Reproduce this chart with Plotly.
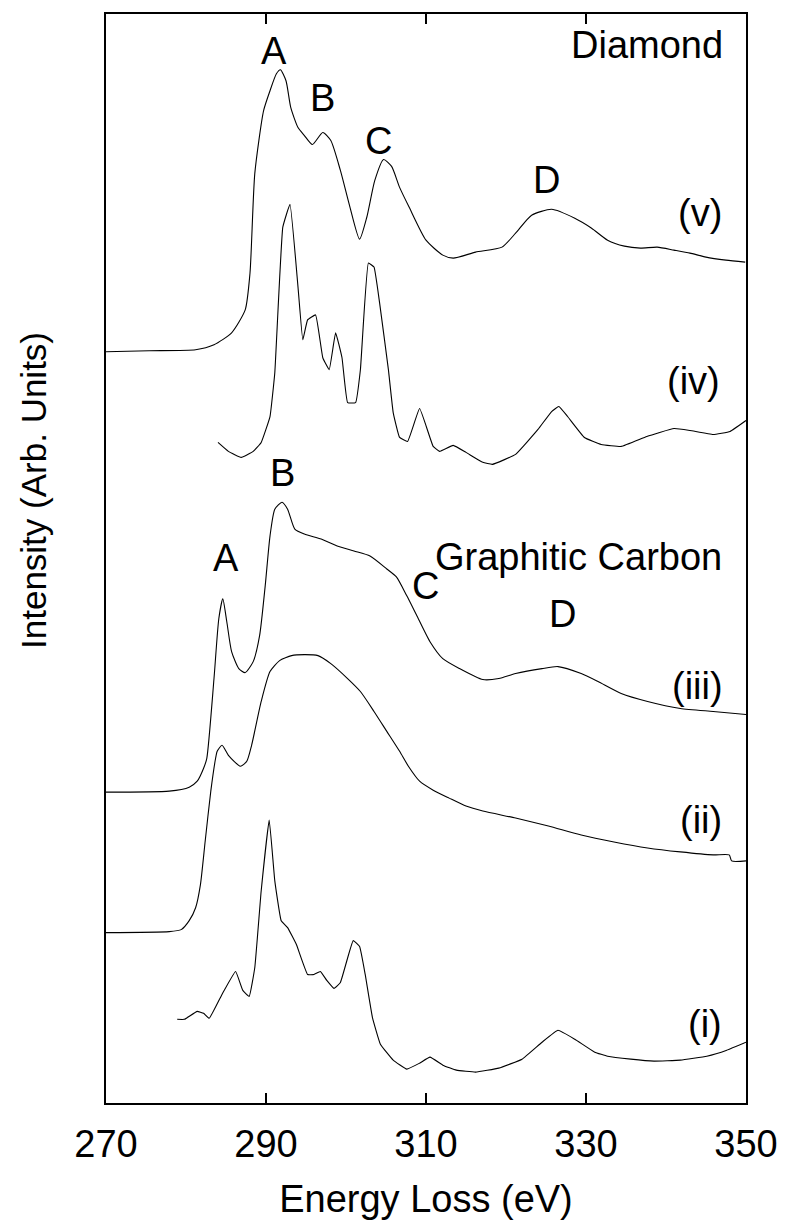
import plotly.graph_objects as go

# ---- data (Energy loss in eV, intensity in arbitrary units) ----
v_energy = [270.0, 275.4, 281.2, 283.5, 285.7, 287.4, 288.0, 288.6, 289.7, 290.5, 291.3, 291.8, 292.5, 293.1,
            294.0, 294.8, 295.8, 297.1, 298.1, 299.3, 300.5, 301.7, 302.6, 303.6, 304.7, 305.7, 306.7, 307.9,
            310.0, 312.1, 313.4, 316.2, 319.5, 321.2, 323.2, 325.7, 328.6, 330.7, 332.7, 334.8, 336.8, 338.9,
            341.0, 343.0, 345.0, 347.5, 349.9]
v_intensity = [754, 755, 756, 761, 773, 796, 833, 933, 996, 1016, 1033, 1037, 1026, 999,
               979, 971, 962, 974, 966, 936, 899, 867, 889, 926, 947, 940, 919, 899,
               866, 851, 848, 854, 859, 873, 891, 897, 888, 878, 866, 860, 858, 859,
               856, 853, 849, 846, 844]

iv_energy = [284.0, 285.3, 286.9, 288.4, 289.4, 290.5, 291.1, 292.1, 293.0, 294.0, 294.6, 295.2, 296.2, 297.1,
             297.9, 298.7, 299.5, 300.2, 301.2, 301.8, 302.8, 303.5, 304.2, 305.3, 305.9, 306.7, 307.7, 309.2,
             310.9, 311.7, 313.4, 315.0, 317.1, 318.3, 321.2, 324.0, 325.7, 326.6, 327.7, 329.8, 331.9, 334.4,
             337.6, 341.0, 343.0, 345.9, 348.0, 350.0]
iv_intensity = [663, 654, 648, 654, 663, 689, 733, 879, 902, 819, 766, 786, 791, 748,
                736, 773, 748, 703, 703, 736, 843, 839, 803, 736, 693, 668, 664, 697,
                659, 654, 660, 653, 643, 641, 651, 676, 694, 699, 689, 668, 661, 659,
                669, 677, 675, 671, 674, 685]

iii_energy = [270.0, 277.9, 280.4, 281.4, 282.2, 282.6, 283.5, 284.1, 284.6, 285.1, 285.7, 286.6, 287.4, 288.4,
              289.2, 289.9, 290.5, 291.1, 292.0, 292.7, 293.6, 294.8, 296.9, 298.9, 301.0, 303.0, 305.1, 306.3,
              307.6, 308.8, 310.5, 312.1, 314.2, 317.1, 319.1, 321.2, 324.5, 326.5, 329.4, 331.5, 334.4, 337.7,
              341.8, 345.9, 350.0]
iii_intensity = [312, 313, 317, 323, 336, 346, 426, 486, 506, 483, 453, 436, 432, 443,
                 469, 519, 569, 596, 603, 596, 576, 571, 566, 559, 554, 549, 536, 528,
                 509, 490, 463, 446, 436, 425, 426, 431, 436, 438, 431, 423, 411, 403,
                 396, 393, 390]

ii_energy = [270.0, 277.9, 279.4, 280.4, 281.2, 281.8, 282.4, 283.1, 283.7, 283.9, 284.5, 285.3, 286.8, 287.6,
             288.2, 289.4, 290.5, 291.7, 293.2, 294.8, 296.5, 298.1, 300.2, 301.8, 303.5, 305.1, 306.7, 307.8,
             309.2, 310.9, 312.9, 315.0, 317.1, 321.2, 325.3, 329.4, 333.5, 337.7, 341.8, 345.9, 347.9, 348.2,
             350.0]
ii_intensity = [171, 172, 174, 183, 196, 219, 263, 313, 346, 353, 359, 349, 338, 343,
                359, 403, 433, 444, 449, 450, 449, 441, 426, 413, 393, 373, 353, 338,
                323, 314, 306, 298, 293, 286, 278, 269, 262, 256, 252, 249, 249, 243,
                243]

i_energy = [278.9, 279.8, 281.4, 282.2, 282.9, 284.5, 286.2, 287.1, 287.9, 288.6, 289.4, 290.4, 291.1, 291.9,
            292.7, 293.8, 295.2, 296.0, 296.8, 297.6, 298.5, 299.3, 300.9, 301.7, 302.4, 303.3, 304.3, 305.9,
            307.6, 309.2, 310.5, 312.1, 313.8, 316.2, 319.1, 322.0, 324.5, 326.5, 328.6, 331.1, 332.7, 335.6,
            338.5, 341.8, 345.1, 347.6, 350.0]
i_intensity = [84, 84, 92, 90, 85, 109, 132, 113, 107, 136, 213, 284, 223, 183,
               176, 159, 129, 129, 132, 123, 115, 121, 163, 157, 129, 86, 59, 43,
               34, 40, 46, 38, 33, 31, 35, 44, 61, 73, 64, 51, 47, 44,
               42, 43, 47, 53, 61]

x_ticks = [270, 290, 310, 330, 350]

# labels: (text, energy, intensity)
labels = [
    ("Diamond", 337.6, 1062),
    ("A", 291.0, 1056),
    ("B", 297.1, 1009),
    ("C", 304.0, 966),
    ("D", 325.0, 926),
    ("(v)", 344.2, 893),
    ("(iv)", 343.4, 725),
    ("B", 292.1, 632),
    ("A", 285.0, 547),
    ("Graphitic Carbon", 329.1, 548),
    ("C", 309.9, 519),
    ("D", 327.0, 491),
    ("(iii)", 343.9, 419),
    ("(ii)", 344.4, 284),
    ("(i)", 344.9, 79),
]

FONT = "Arial, 'Liberation Sans', sans-serif"
FS = 38

fig = go.Figure()
series = [
    (v_energy, v_intensity, 0.6),
    (iv_energy, iv_intensity, 0.3),
    (iii_energy, iii_intensity, 0.6),
    (ii_energy, ii_intensity, 0.6),
    (i_energy, i_intensity, 0.3),
]
for xs, ys, sm in series:
    fig.add_trace(go.Scatter(x=xs, y=ys, mode="lines",
                             line=dict(color="black", width=1.1, shape="spline", smoothing=sm),
                             showlegend=False, hoverinfo="skip"))

for text, xe, yi in labels:
    fig.add_annotation(x=xe, y=yi, xref="x", yref="y", text=text, showarrow=False,
                       font=dict(family=FONT, size=FS, color="black"),
                       xanchor="center", yanchor="middle")

# y-axis title (placed as rotated text, as in the original it is not centred on the axis)
fig.add_annotation(x=-0.1144, y=0.5627, xref="paper", yref="paper",
                   text="Intensity (Arb. Units)", textangle=-90, showarrow=False,
                   font=dict(family=FONT, size=35, color="black"),
                   xanchor="center", yanchor="middle")

fig.update_layout(
    width=790, height=1225,
    margin=dict(l=106, r=37, t=13, b=119),
    paper_bgcolor="white", plot_bgcolor="white",
    font=dict(family=FONT, size=FS, color="black"),
)
fig.update_xaxes(
    range=[270, 350], tickvals=x_ticks, ticktext=[str(t) for t in x_ticks],
    ticks="inside", ticklen=10, tickwidth=1.5, tickcolor="black",
    showline=True, linecolor="black", linewidth=2, mirror="ticks",
    showgrid=False, zeroline=False, ticklabelstandoff=6,
    tickfont=dict(family=FONT, size=FS, color="black"),
    title=dict(text="Energy Loss (eV)", font=dict(family=FONT, size=FS, color="black"), standoff=22),
)
fig.update_yaxes(
    range=[0, 1093], showticklabels=False, ticks="",
    showline=True, linecolor="black", linewidth=2, mirror=True,
    showgrid=False, zeroline=False,
)

fig.write_html("out.html")
